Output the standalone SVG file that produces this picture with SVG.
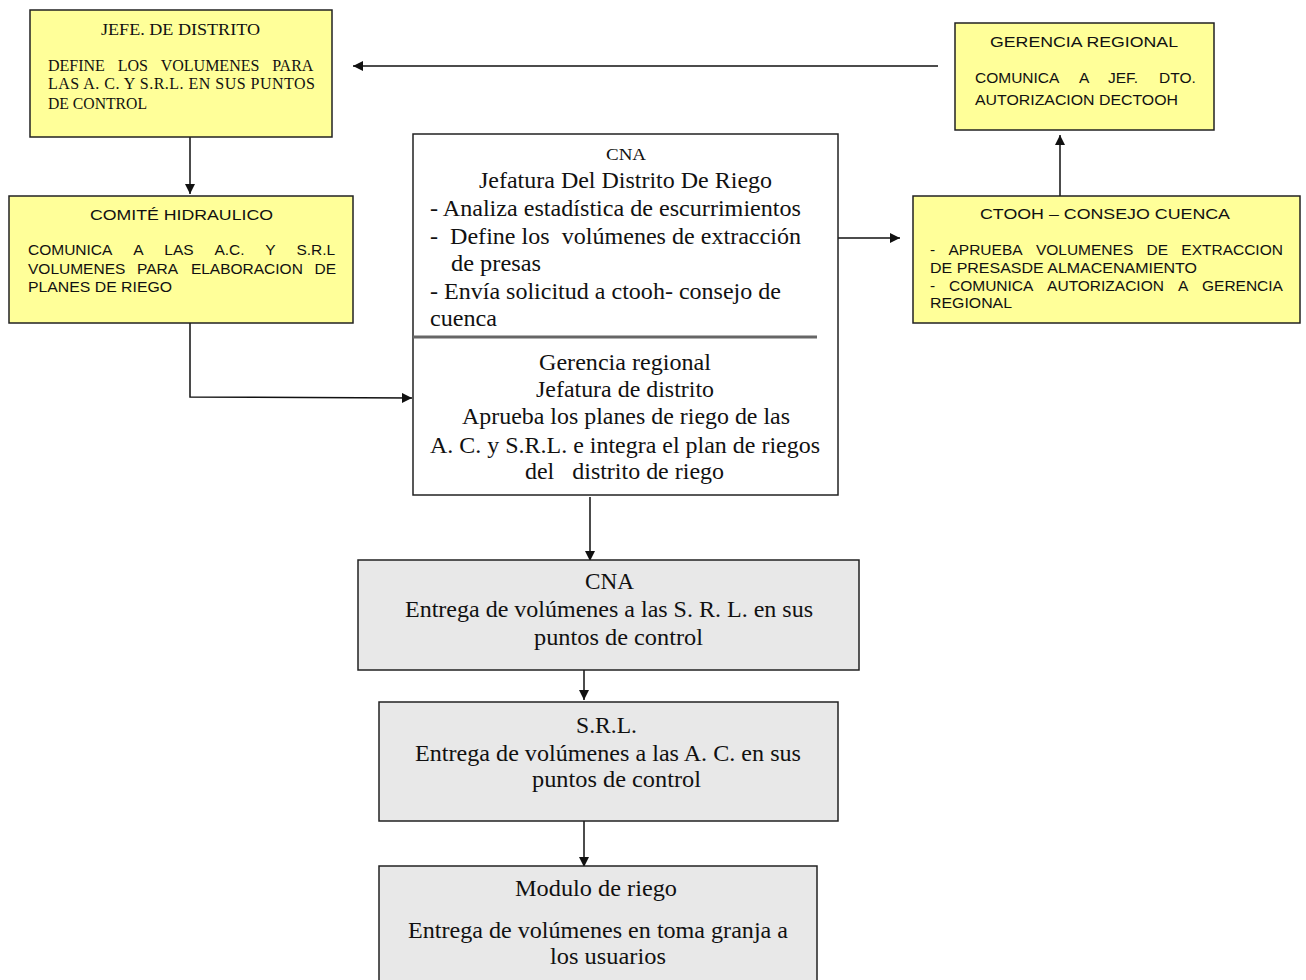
<svg xmlns="http://www.w3.org/2000/svg" width="1306" height="980" viewBox="0 0 1306 980">
<style>
.y{fill:#ffff99;stroke:#222;stroke-width:1.5}
.g{fill:#e8e8e8;stroke:#222;stroke-width:1.5}
.w{fill:#fff;stroke:#222;stroke-width:1.5}
.ts{font-family:"Liberation Serif",serif;font-size:16px;fill:#111}
.ss{font-family:"Liberation Sans",sans-serif;font-size:15.5px;fill:#111}
.tl{font-family:"Liberation Serif",serif;font-size:23px;fill:#111}
.c{stroke:#111;stroke-width:1.5;fill:none}
</style>
<defs>
<marker id="a" viewBox="0 0 10 10" refX="10" refY="5" markerWidth="10" markerHeight="10" markerUnits="userSpaceOnUse" orient="auto">
<path d="M0,0 L10,5 L0,10 z" fill="#111"/>
</marker>
</defs>
<g id="connectors">
<line class="c" x1="938" y1="66" x2="353" y2="66" marker-end="url(#a)"/>
<line class="c" x1="190" y1="137" x2="190" y2="194" marker-end="url(#a)"/>
<polyline class="c" points="190,323 190,397 412,398" marker-end="url(#a)"/>
<line class="c" x1="838" y1="238" x2="900" y2="238" marker-end="url(#a)"/>
<line class="c" x1="1060" y1="196" x2="1060" y2="135" marker-end="url(#a)"/>
<line class="c" x1="590" y1="497" x2="590" y2="561" marker-end="url(#a)"/>
<line class="c" x1="584" y1="670" x2="584" y2="700" marker-end="url(#a)"/>
<line class="c" x1="584" y1="805" x2="584" y2="867" marker-end="url(#a)"/>
</g>
<g id="jefe">
<rect class="y" x="30" y="10" width="302" height="127"/>
<text class="ts" x="101" y="35" textLength="159" lengthAdjust="spacingAndGlyphs">JEFE. DE DISTRITO</text>
<text class="ts" y="71"><tspan x="48">DEFINE</tspan> <tspan x="117.7">LOS</tspan> <tspan x="160.7">VOLUMENES</tspan> <tspan x="272.2">PARA</tspan></text>
<text class="ts" x="48" y="89" textLength="267" lengthAdjust="spacing">LAS A. C. Y S.R.L. EN SUS PUNTOS</text>
<text class="ts" x="48" y="109" textLength="99" lengthAdjust="spacingAndGlyphs">DE CONTROL</text>
</g>
<g id="gerencia">
<rect class="y" x="955" y="23" width="259" height="107"/>
<text class="ss" x="990" y="47" textLength="188" lengthAdjust="spacingAndGlyphs">GERENCIA REGIONAL</text>
<text class="ss" y="83"><tspan x="975">COMUNICA</tspan> <tspan x="1079">A</tspan> <tspan x="1108">JEF.</tspan> <tspan x="1159">DTO.</tspan></text>
<text class="ss" x="975" y="105" textLength="203" lengthAdjust="spacingAndGlyphs">AUTORIZACION DECTOOH</text>
</g>
<g id="ctooh">
<rect class="y" x="913" y="196" width="387" height="127"/>
<text class="ss" x="980" y="219" textLength="250" lengthAdjust="spacingAndGlyphs">CTOOH – CONSEJO CUENCA</text>
<text class="ss" y="255"><tspan x="930">-</tspan> <tspan x="948.5">APRUEBA</tspan> <tspan x="1035.9">VOLUMENES</tspan> <tspan x="1146.5">DE</tspan> <tspan x="1181.3">EXTRACCION</tspan></text>
<text class="ss" x="930" y="273" textLength="267" lengthAdjust="spacingAndGlyphs">DE PRESASDE ALMACENAMIENTO</text>
<text class="ss" y="291"><tspan x="930">-</tspan> <tspan x="949">COMUNICA</tspan> <tspan x="1047.1">AUTORIZACION</tspan> <tspan x="1178">A</tspan> <tspan x="1202">GERENCIA</tspan></text>
<text class="ss" x="930" y="308" textLength="82" lengthAdjust="spacingAndGlyphs">REGIONAL</text>
</g>
<g id="comite">
<rect class="y" x="9" y="196" width="344" height="127"/>
<text class="ss" x="90" y="220" textLength="183" lengthAdjust="spacingAndGlyphs">COMITÉ HIDRAULICO</text>
<text class="ss" y="255"><tspan x="28">COMUNICA</tspan> <tspan x="133.2">A</tspan> <tspan x="164.3">LAS</tspan> <tspan x="214.4">A.C.</tspan> <tspan x="265.3">Y</tspan> <tspan x="296.4">S.R.L</tspan></text>
<text class="ss" y="274"><tspan x="28">VOLUMENES</tspan> <tspan x="137">PARA</tspan> <tspan x="190.9">ELABORACION</tspan> <tspan x="314.6">DE</tspan></text>
<text class="ss" x="28" y="292" textLength="144" lengthAdjust="spacingAndGlyphs">PLANES DE RIEGO</text>
</g>
<g id="centro">
<rect class="w" x="413" y="134" width="425" height="361"/>
<line x1="413" y1="337" x2="817" y2="337" stroke="#666" stroke-width="3"/>
<text class="ts" x="606" y="160" textLength="40" lengthAdjust="spacingAndGlyphs">CNA</text>
<text class="tl" x="479" y="188" textLength="293" lengthAdjust="spacingAndGlyphs">Jefatura Del Distrito De Riego</text>
<text class="tl" x="430" y="216" textLength="371" lengthAdjust="spacingAndGlyphs">- Analiza estadística de escurrimientos</text>
<text class="tl" x="430" y="244" textLength="371" lengthAdjust="spacingAndGlyphs" xml:space="preserve">-  Define los  volúmenes de extracción</text>
<text class="tl" x="451" y="271" textLength="90" lengthAdjust="spacingAndGlyphs">de presas</text>
<text class="tl" x="430" y="299" textLength="351" lengthAdjust="spacingAndGlyphs">- Envía solicitud a ctooh- consejo de</text>
<text class="tl" x="430" y="326" textLength="67" lengthAdjust="spacingAndGlyphs">cuenca</text>
<text class="tl" x="539" y="370" textLength="172" lengthAdjust="spacingAndGlyphs">Gerencia regional</text>
<text class="tl" x="536" y="397" textLength="178" lengthAdjust="spacingAndGlyphs">Jefatura de distrito</text>
<text class="tl" x="462" y="424" textLength="328" lengthAdjust="spacingAndGlyphs">Aprueba los planes de riego de las</text>
<text class="tl" x="430" y="453" textLength="390" lengthAdjust="spacingAndGlyphs">A. C. y S.R.L. e integra el plan de riegos</text>
<text class="tl" x="525" y="479" textLength="199" lengthAdjust="spacingAndGlyphs" xml:space="preserve">del   distrito de riego</text>
</g>
<g id="cna">
<rect class="g" x="358" y="560" width="501" height="110"/>
<text class="tl" x="585" y="589" textLength="49" lengthAdjust="spacingAndGlyphs">CNA</text>
<text class="tl" x="405" y="617" textLength="408" lengthAdjust="spacingAndGlyphs">Entrega de volúmenes a las S. R. L. en sus</text>
<text class="tl" x="534" y="645" textLength="169" lengthAdjust="spacingAndGlyphs">puntos de control</text>
</g>
<g id="srl">
<rect class="g" x="379" y="702" width="459" height="119"/>
<text class="tl" x="576" y="733" textLength="61" lengthAdjust="spacingAndGlyphs">S.R.L.</text>
<text class="tl" x="415" y="761" textLength="386" lengthAdjust="spacingAndGlyphs">Entrega de volúmenes a las A. C. en sus</text>
<text class="tl" x="532" y="787" textLength="169" lengthAdjust="spacingAndGlyphs">puntos de control</text>
</g>
<g id="modulo">
<rect class="g" x="379" y="866" width="438" height="120"/>
<text class="tl" x="515" y="896" textLength="162" lengthAdjust="spacingAndGlyphs">Modulo de riego</text>
<text class="tl" x="408" y="938" textLength="380" lengthAdjust="spacingAndGlyphs">Entrega de volúmenes en toma granja a</text>
<text class="tl" x="550" y="964" textLength="116" lengthAdjust="spacingAndGlyphs">los usuarios</text>
</g>
</svg>
